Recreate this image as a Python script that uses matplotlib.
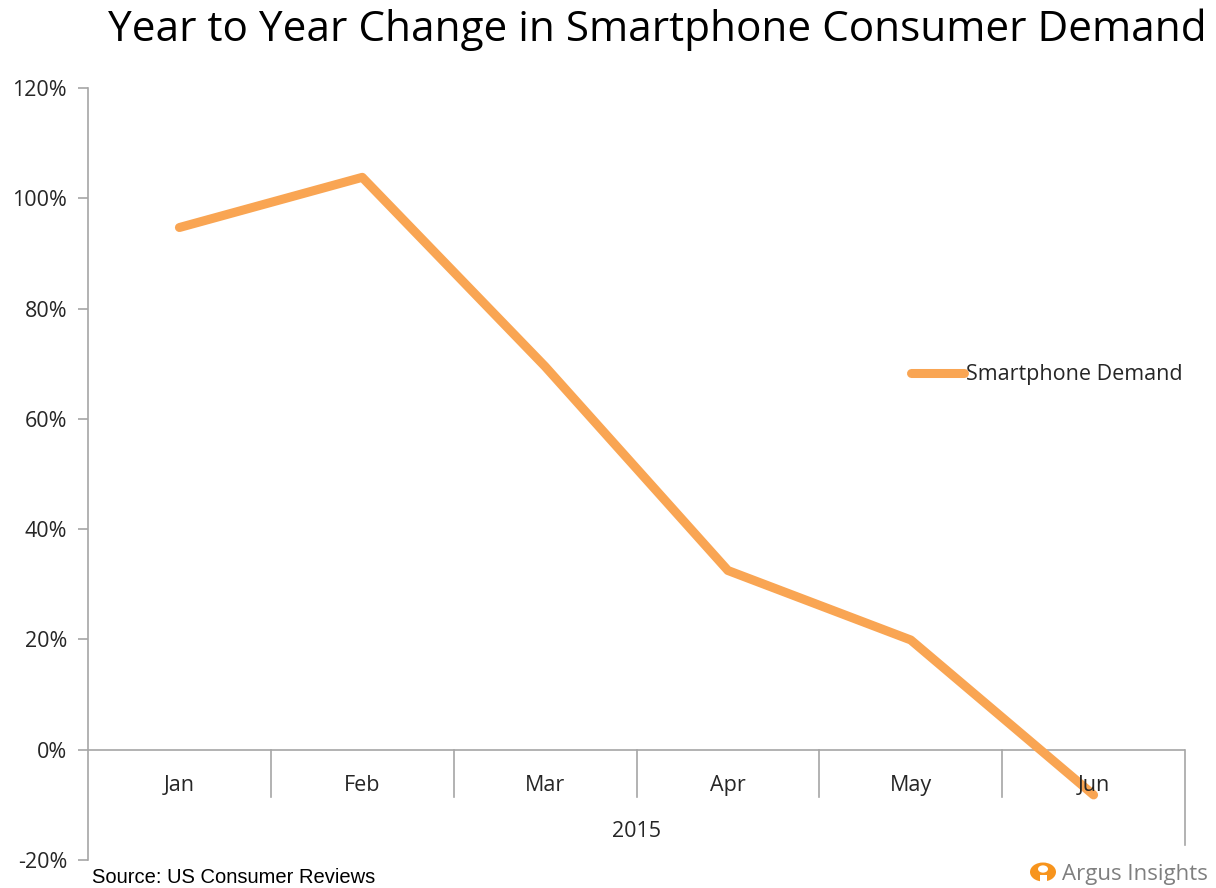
import numpy as np
import matplotlib.pyplot as plt
from matplotlib.patches import Circle, Rectangle

months = ['Jan', 'Feb', 'Mar', 'Apr', 'May', 'Jun']
demand = [94.7, 103.8, 69.5, 32.5, 19.9, -8.2]   # % change year to year
yticks = [-20, 0, 20, 40, 60, 80, 100, 120]
year_label = '2015'

orange = '#F9A553'
grey = '#A6A6A6'
txt = '#262626'

fig = plt.figure(figsize=(12.16, 8.88), dpi=100)
ax = fig.add_axes([88/1216, 1 - 860/888, (1185 - 88)/1216, (860 - 88)/888])

x = np.arange(len(months)) + 0.5
ax.plot(x, demand, color=orange, lw=6.5, solid_capstyle='round',
        solid_joinstyle='round', label='Smartphone Demand', zorder=3)

ax.set_xlim(0, len(months))
ax.set_ylim(-20, 120)
ax.set_yticks(yticks)
ax.set_yticklabels([f'{v}%' for v in yticks], family='Open Sans', fontsize=15.5, color=txt)
ax.tick_params(axis='y', length=7, color=grey, width=1.2, pad=8)
ax.set_xticks([])
for s in ['top', 'right', 'bottom']:
    ax.spines[s].set_visible(False)
ax.spines['left'].set_color(grey)
ax.spines['left'].set_linewidth(1.2)

# category axis drawn at zero
ax.axhline(0, color=grey, lw=1.2, zorder=1)
for i in range(1, len(months)):
    ax.plot([i, i], [0, -8.5], color=grey, lw=1.2, clip_on=False)
ax.plot([len(months)] * 2, [0, -17.3], color=grey, lw=1.2, clip_on=False)
for xi, m in zip(x, months):
    ax.text(xi, -6.4, m, ha='center', va='center', family='Open Sans',
            fontsize=15.5, color=txt)
ax.text(len(months) / 2, -14.8, year_label, ha='center', va='center',
        family='Open Sans', fontsize=15.5, color=txt)

# legend
ax.plot([4.5, 4.79], [68.3, 68.3], color=orange, lw=6.5, solid_capstyle='round')
ax.text(4.8, 68.0, 'Smartphone Demand', ha='left', va='center',
        family='Open Sans', fontsize=15.5, color=txt)

fig.text(657/1216, 1 - 30/888, 'Year to Year Change in Smartphone Consumer Demand',
         ha='center', va='center', family='Open Sans', fontsize=30.4, color='black')

fig.text(92/1216, 1/888, 'Source: US Consumer Reviews', ha='left',
         va='bottom', family='Liberation Sans', fontsize=14.5, color='black')

# logo
fig.text(1062/1216, 1 - 874/888, 'Argus Insights', ha='left', va='center',
         family='Open Sans', fontsize=16, color='#7F7F7F')
lx, ly = 1043/1216, 1 - 872/888
fig.patches.append(Circle((lx, ly), 13/1216, transform=fig.transFigure,
                          facecolor='#F7941D', edgecolor='none'))
fig.patches.append(Circle((lx, ly + 3/888), 5/1216, transform=fig.transFigure,
                          facecolor='white', edgecolor='none'))
fig.patches.append(Rectangle((lx - 3.5/1216, ly - 17/888), 7/1216, 14/888,
                             transform=fig.transFigure, facecolor='white',
                             edgecolor='none'))

fig.savefig('out.png', dpi=100)
